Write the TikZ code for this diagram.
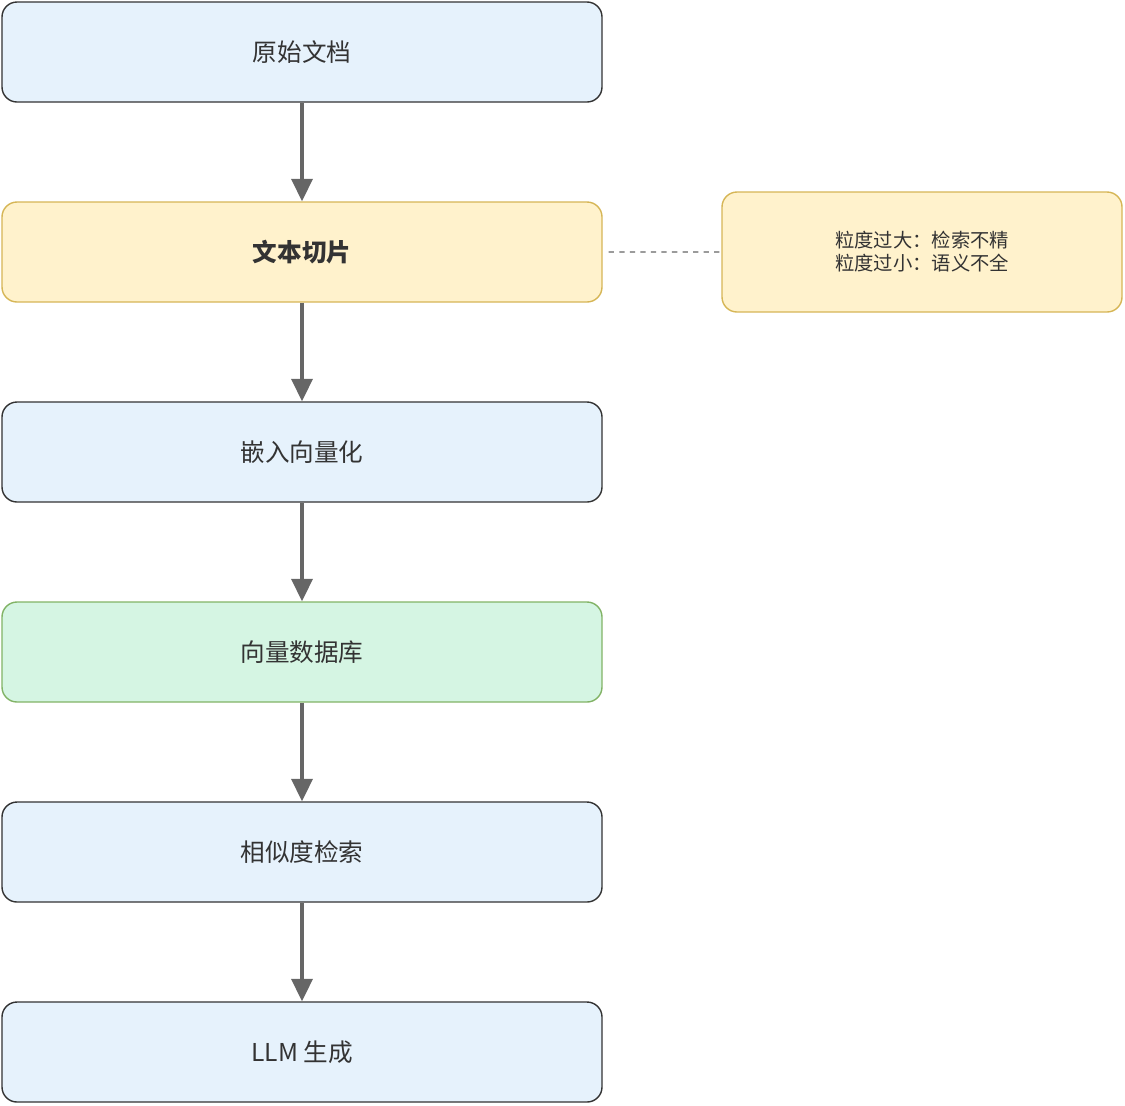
\documentclass[tikz,border=0pt]{standalone}
\usepackage{fontspec}
\setmainfont{Noto Sans CJK SC}
\usetikzlibrary{positioning,arrows.meta}
\definecolor{stepblue}{HTML}{E6F2FC}
\definecolor{stepyellow}{HTML}{FFF2CC}
\definecolor{edgeyellow}{HTML}{D6B656}
\definecolor{stepgreen}{HTML}{D5F5E3}
\definecolor{edgegreen}{HTML}{82B366}
\definecolor{textgray}{HTML}{333333}
\definecolor{arrowgray}{HTML}{666666}
\tikzset{
	stage/.style={rectangle, rounded corners=0.3cm, draw=textgray, line width=0.8pt, fill=stepblue,
		minimum width=12cm, minimum height=2cm, text=textgray, font=\fontsize{14}{17}\selectfont},
	flow/.style={-{Triangle[length=0.45cm,width=0.42cm]}, draw=arrowgray, line width=2.2pt},
}
\begin{document}
\begin{tikzpicture}[node distance=4cm]
	\useasboundingbox (0,0) rectangle (22.5,-22.1);

		\node(doc)[stage] at (6.04,-1.04) {原始文档};
		\node(chunk)[stage, below of=doc, fill=stepyellow, draw=edgeyellow, font=\fontsize{14}{17}\selectfont\bfseries] {文本切片};
		\node(embed)[stage, below of=chunk] {嵌入向量化};
		\node(store)[stage, below of=embed, fill=stepgreen, draw=edgegreen] {向量数据库};
		\node(search)[stage, below of=store] {相似度检索};
		\node(llm)[stage, below of=search] {LLM 生成};

		\node(note)[stage, minimum width=8cm, minimum height=2.4cm, fill=stepyellow, draw=edgeyellow,
			font=\fontsize{11}{13}\selectfont, align=center] at (18.44,-5.04) {粒度过大：检索不精\\粒度过小：语义不全};

		\draw[flow] (doc) -- (chunk);
		\draw[flow] (chunk) -- (embed);
		\draw[flow] (embed) -- (store);
		\draw[flow] (store) -- (search);
		\draw[flow] (search) -- (llm);
		\draw[arrowgray, dashed, line width=0.6pt, shorten <=0.12cm] (chunk) -- (note);
	\end{tikzpicture}
\end{document}
